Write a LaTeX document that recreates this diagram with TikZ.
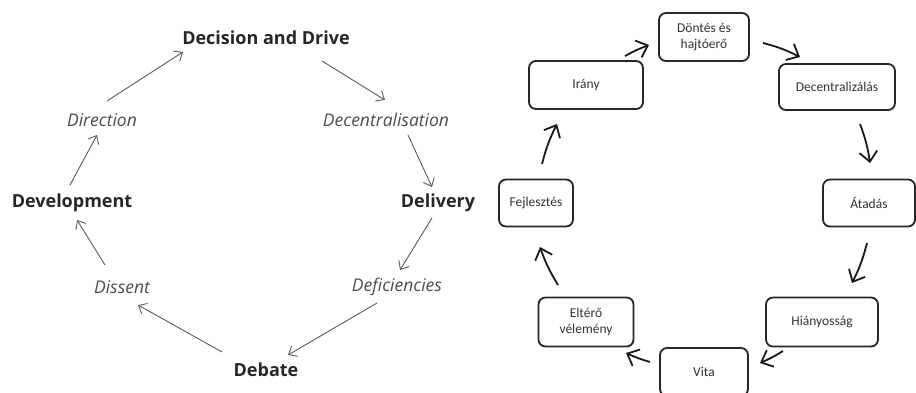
\documentclass[tikz,border=0pt]{standalone}
\usepackage{fontspec}
\setmainfont{Open Sans}
\newfontfamily\boxfont{Carlito}
\usetikzlibrary{arrows.meta,calc}

\tikzset{
  stage/.style={font=\bfseries\fontsize{18}{21}\selectfont, text=black!85},
  phase/.style={font=\itshape\fontsize{17.5}{20}\selectfont, text=black!70},
  thinarr/.style={draw=black!65, line width=0.9pt, -{Straight Barb[length=7pt,width=12pt]}},
  box/.style={draw=black!85, line width=1.8pt, rounded corners=7pt, align=center, font=\boxfont\fontsize{13.5}{16}\selectfont, text=black!80},
  bigarr/.style={draw=black!90, line width=1.8pt, -{Straight Barb[length=10pt,width=18pt]}},
}

\begin{document}
\begin{tikzpicture}[x=1pt,y=-1pt]
\useasboundingbox (0,0) rectangle (916,392);

% left cycle
\node[stage] (dd) at (266,38) {Decision and Drive};
\node[phase] (dcn) at (386,120) {Decentralisation};
\node[stage] (dlv) at (438,203) {Delivery};
\node[phase] (dfc) at (397,287) {Deficiencies};
\node[stage] (deb) at (266,370) {Debate};
\node[phase] (dis) at (122,287) {Dissent};
\node[stage] (dev) at (72,203) {Development};
\node[phase] (dir) at (102,120) {Direction};

\draw[thinarr] ($(dev)+(-2,-18)$) -- ($(dir)+(-5,15)$);
\draw[thinarr] ($(dir)+(5,-19)$) -- ($(dd)+(-83,14)$);
\draw[thinarr] ($(dd)+(56,23)$) -- ($(dcn)+(-1,-20)$);
\draw[thinarr] ($(dcn)+(22,15)$) -- ($(dlv)+(-6,-16)$);
\draw[thinarr] ($(dlv)+(-6,15)$) -- ($(dfc)+(3,-17)$);
\draw[thinarr] ($(dfc)+(-20,16)$) -- ($(deb)+(22,-15)$);
\draw[thinarr] ($(deb)+(-44,-18)$) -- ($(dis)+(16,18)$);
\draw[thinarr] ($(dis)+(-17,-22)$) -- ($(dev)+(5,17)$);

% right cycle
\node[box, minimum width=90pt, minimum height=48pt] (dh) at (704,37) {Döntés és\\hajtóerő};
\node[box, minimum width=116pt, minimum height=46pt] (dz) at (837,87) {Decentralizálás};
\node[box, minimum width=92pt, minimum height=47pt] (at) at (869,203) {Átadás};
\node[box, minimum width=112pt, minimum height=49pt] (hi) at (822,322) {Hiányosság};
\node[box, minimum width=88pt, minimum height=48pt] (vi) at (704,372) {Vita};
\node[box, minimum width=95pt, minimum height=49pt] (el) at (586,322) {Eltérő\\vélemény};
\node[box, minimum width=74pt, minimum height=47pt] (fj) at (536,203) {Fejlesztés};
\node[box, minimum width=114pt, minimum height=48pt] (ir) at (586,85) {Irány};

\draw[bigarr] ($(ir)+(39,-29)$) to[bend left=4] ($(dh)+(-55,8)$);
\draw[bigarr] ($(dh)+(59,6)$) to[bend left=6] ($(dz)+(-37,-30)$);
\draw[bigarr] ($(dz)+(23,37)$) to[bend left=6] ($(at)+(1,-40)$);
\draw[bigarr] ($(at)+(-2,40)$) to[bend left=6] ($(hi)+(30,-39)$);
\draw[bigarr] ($(hi)+(-39,29)$) to[bend left=4] ($(vi)+(56,-9)$);
\draw[bigarr] ($(vi)+(-54,-10)$) to[bend left=4] ($(el)+(40,31)$);
\draw[bigarr] ($(el)+(-28,-37)$) to[bend left=6] ($(fj)+(4,44)$);
\draw[bigarr] ($(fj)+(6,-39)$) to[bend left=6] ($(ir)+(-29,39)$);
\end{tikzpicture}
\end{document}
